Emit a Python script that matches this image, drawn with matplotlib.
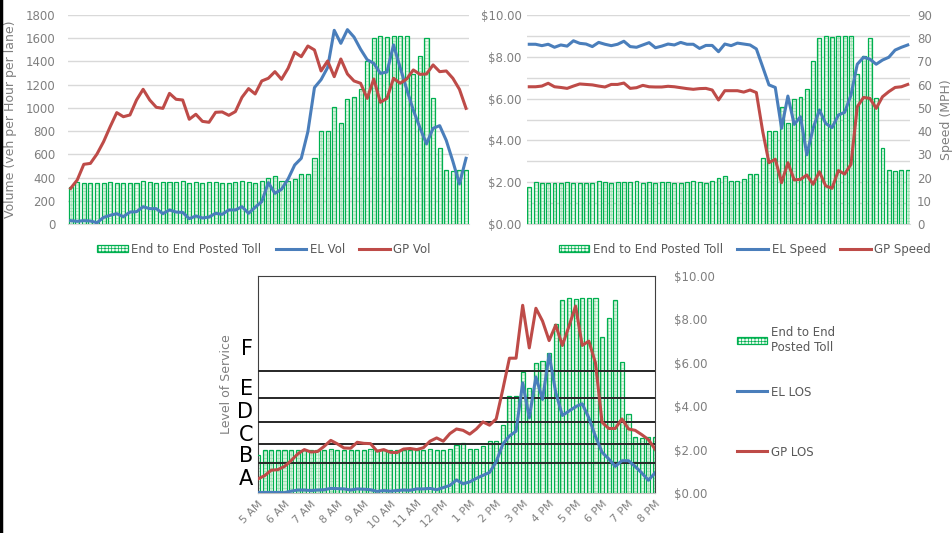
import numpy as np
import matplotlib
matplotlib.use("Agg")
import matplotlib.pyplot as plt
from matplotlib.patches import Patch
from matplotlib.lines import Line2D

# -----------------------------
# data: 15-minute intervals, 5 AM - 8 PM (61 points)
# -----------------------------
hour_labels = ["5 AM", "6 AM", "7 AM", "8 AM", "9 AM", "10 AM", "11 AM", "12 PM",
               "1 PM", "2 PM", "3 PM", "4 PM", "5 PM", "6 PM", "7 PM", "8 PM"]

toll = [1.75, 2.0, 1.96, 1.96, 1.96, 1.96, 2.0, 1.96, 1.96, 1.96,
        1.96, 2.05, 2.0, 1.96, 2.0, 2.0, 2.0, 2.05, 1.96, 2.0,
        1.96, 2.0, 2.0, 1.96, 1.96, 2.0, 2.05, 2.0, 1.96, 2.05,
        2.2, 2.3, 2.05, 2.05, 2.15, 2.38, 2.38, 3.14, 4.45, 4.45,
        5.58, 4.82, 6.0, 6.09, 6.44, 7.8, 8.88, 9.0, 8.95, 9.0,
        9.0, 9.0, 7.2, 8.05, 8.9, 6.03, 3.65, 2.57, 2.52, 2.57, 2.57]

el_vol = [29, 23, 29, 26, 11, 57, 75, 89, 63, 103,
          106, 149, 132, 132, 89, 121, 103, 100, 46, 69,
          52, 60, 92, 83, 121, 121, 149, 92, 144, 192,
          356, 264, 299, 388, 508, 566, 795, 1175, 1243, 1348,
          1668, 1556, 1674, 1610, 1505, 1415, 1384, 1297, 1309, 1542,
          1348, 1160, 980, 830, 690, 824, 847, 720, 540, 345, 566]
gp_vol = [307, 379, 514, 522, 603, 709, 838, 959, 924, 939,
          1068, 1160, 1068, 1005, 996, 1125, 1074, 1068, 902, 945,
          884, 876, 962, 965, 936, 968, 1091, 1166, 1120, 1232,
          1255, 1312, 1246, 1341, 1479, 1441, 1533, 1499, 1318, 1404,
          1269, 1421, 1292, 1232, 1212, 1082, 1249, 1048, 1082, 1255,
          1212, 1249, 1327, 1289, 1292, 1370, 1312, 1318, 1255, 1160, 996]

el_speed = [77.4, 77.4, 76.8, 77.4, 76.1, 77.1, 76.6, 78.9, 77.8, 77.5,
            76.4, 78.2, 77.4, 76.8, 77.4, 78.7, 76.4, 76.1, 77.1, 78.1,
            75.9, 76.6, 77.5, 77.1, 78.2, 77.4, 77.4, 75.6, 76.9, 76.9,
            74.2, 77.5, 76.8, 77.9, 77.5, 77.1, 75.4, 67.7, 59.9, 58.8,
            41.2, 55.1, 42.9, 46.2, 29.8, 41.2, 49.1, 43.3, 41.5, 46.9,
            48.1, 55.5, 68.8, 71.8, 71.0, 68.8, 70.6, 71.8, 74.9, 76.1, 77.1]
gp_speed = [59.1, 59.1, 59.4, 60.6, 59.1, 58.8, 58.4, 59.4, 60.3, 60.1,
            59.9, 59.4, 59.0, 60.1, 60.1, 60.7, 58.4, 58.7, 59.7, 59.1,
            59.0, 59.0, 59.3, 59.1, 58.7, 58.3, 58.0, 58.3, 58.4, 57.7,
            53.4, 57.4, 57.4, 57.4, 56.8, 57.7, 56.6, 40.0, 26.4, 27.9,
            17.8, 26.4, 19.0, 19.2, 21.1, 17.1, 22.5, 16.4, 15.4, 23.0,
            21.5, 25.7, 50.5, 54.5, 54.1, 49.8, 54.8, 57.0, 58.8, 59.1, 60.1]

# density (pc/mi/ln), shown against level of service bands
el_los = [0.2, 0.2, 0.2, 0.2, 0.1, 0.7, 1.1, 1.1, 0.9, 1.1,
          1.2, 1.7, 1.6, 1.5, 1.1, 1.5, 1.4, 1.2, 0.6, 0.9,
          0.7, 0.9, 1.1, 1.0, 1.5, 1.5, 1.7, 1.2, 2.0, 2.8,
          4.8, 3.4, 4.1, 5.4, 6.5, 7.6, 11.5, 18.0, 21.0, 22.8,
          40.6, 27.7, 42.8, 34.5, 51.1, 37.0, 28.6, 30.2, 31.8, 32.9,
          27.7, 20.9, 15.0, 12.6, 9.8, 11.9, 11.9, 9.8, 7.4, 4.7, 7.4]
gp_los = [5.2, 6.4, 8.4, 8.6, 9.8, 11.9, 14.4, 16.0, 15.1, 15.3,
          17.2, 19.4, 18.1, 16.6, 16.5, 18.7, 18.3, 18.2, 15.4, 16.0,
          15.0, 14.9, 16.2, 16.4, 16.0, 16.7, 19.1, 20.3, 19.1, 21.9,
          23.6, 23.1, 21.7, 23.6, 26.2, 25.0, 27.3, 38.2, 49.7, 49.7,
          69.2, 53.5, 68.1, 63.4, 56.2, 61.9, 54.4, 61.5, 68.9, 54.4,
          56.0, 48.0, 26.1, 23.8, 23.8, 27.3, 23.6, 23.1, 21.5, 19.7, 16.2]

los_letters = ["A", "B", "C", "D", "E", "F"]
los_breaks = [11, 18, 26, 35, 45]

# -----------------------------
# styles
# -----------------------------
BLUE = "#4a7ebb"
RED = "#be4b48"
GREEN = "#00b050"
GRID = "#d9d9d9"
TXT = "#7f7f7f"
LW = 2.2
BAR_W = 0.62

plt.rcParams["font.family"] = ["DejaVu Sans"]
plt.rcParams["hatch.linewidth"] = 0.5

x = np.arange(len(toll))


def toll_bars(ax):
    ax.bar(x, toll, width=BAR_W, facecolor="#eefaf1", edgecolor="#9fe0b1",
           hatch="+++++", linewidth=0, zorder=2)
    ax.bar(x, toll, width=BAR_W, fill=False, edgecolor=GREEN,
           linewidth=0.9, zorder=3)


def bare(ax):
    for s in ax.spines.values():
        s.set_visible(False)
    ax.tick_params(length=0, labelsize=8.5, colors=TXT)


def toll_handle():
    return Patch(facecolor="#eefaf1", edgecolor=GREEN, hatch="+++++",
                 linewidth=0.9)


fig = plt.figure(figsize=(9.53, 5.33), dpi=100)

# -----------------------------
# top left: volume
# -----------------------------
ax1b = fig.add_axes([68 / 953, 1 - 224 / 533, 401 / 953, 209 / 533])
ax1 = ax1b.twinx()
toll_bars(ax1b)
ax1b.set_ylim(0, 10)
ax1b.set_yticks(np.linspace(0, 10, 10))
ax1b.yaxis.grid(True, color=GRID, lw=1)
ax1b.set_axisbelow(True)
ax1b.set_yticklabels([])
ax1b.set_xticks([])
ax1b.set_xlim(-0.4, 60.45)
bare(ax1b)
ax1b.spines["bottom"].set_visible(True)
ax1b.spines["bottom"].set_color(GRID)

ax1.plot(x, el_vol, color=BLUE, lw=LW, zorder=5)
ax1.plot(x, gp_vol, color=RED, lw=LW, zorder=5)
ax1.set_ylim(0, 1800)
ax1.set_yticks(range(0, 1801, 200))
ax1.yaxis.tick_left()
ax1.yaxis.set_label_position("left")
bare(ax1)
ax1.tick_params(axis="y", pad=9)
ax1.set_ylabel("Volume (veh per Hour per lane)", color=TXT, fontsize=9, labelpad=6)

ax1.legend([toll_handle(), Line2D([], [], color=BLUE, lw=LW),
            Line2D([], [], color=RED, lw=LW)],
           ["End to End Posted Toll", "EL Vol", "GP Vol"],
           loc="center", bbox_to_anchor=(264 / 953, 1 - 249 / 533),
           bbox_transform=fig.transFigure, ncol=3, frameon=False,
           fontsize=8.5, labelcolor="#595959", handlelength=2.6,
           handletextpad=0.3, columnspacing=1.2, handleheight=0.5)

# -----------------------------
# top right: speed
# -----------------------------
ax2b = fig.add_axes([527 / 953, 1 - 224 / 533, 383 / 953, 209 / 533])
ax2 = ax2b.twinx()
toll_bars(ax2b)
ax2b.set_ylim(0, 10)
ax2b.set_yticks(np.arange(0, 10.01, 2))
ax2b.set_yticks(np.arange(1, 10, 2), minor=True)
ax2b.set_yticklabels([f"${v:.2f}" for v in np.arange(0, 10.01, 2)])
ax2b.yaxis.grid(True, which="both", color=GRID, lw=1)
ax2b.set_axisbelow(True)
ax2b.set_xticks([])
ax2b.set_xlim(-0.36, 60.36)
bare(ax2b)
ax2b.tick_params(which="minor", length=0)
ax2b.tick_params(axis="y", pad=4)
ax2b.spines["bottom"].set_visible(True)
ax2b.spines["bottom"].set_color(GRID)

ax2.plot(x, el_speed, color=BLUE, lw=LW, zorder=5)
ax2.plot(x, gp_speed, color=RED, lw=LW, zorder=5)
ax2.set_ylim(0, 90)
ax2.set_yticks(range(0, 91, 10))
bare(ax2)
ax2.tick_params(axis="y", pad=5)
ax2.set_ylabel("Speed (MPH)", color=TXT, fontsize=9, labelpad=6)

ax2.legend([toll_handle(), Line2D([], [], color=BLUE, lw=LW),
            Line2D([], [], color=RED, lw=LW)],
           ["End to End Posted Toll", "EL Speed", "GP Speed"],
           loc="center", bbox_to_anchor=(745 / 953, 1 - 249 / 533),
           bbox_transform=fig.transFigure, ncol=3, frameon=False,
           fontsize=8.5, labelcolor="#595959", handlelength=2.6,
           handletextpad=0.3, columnspacing=1.2, handleheight=0.5)

# -----------------------------
# bottom: level of service
# -----------------------------
ax3b = fig.add_axes([258 / 953, 1 - 493 / 533, 397 / 953, 217 / 533])
ax3 = ax3b.twinx()
toll_bars(ax3b)
ax3b.set_ylim(0, 10)
ax3b.set_xlim(0, 60)
ax3b.yaxis.tick_right()
ax3b.set_yticks(np.arange(0, 10.01, 2))
ax3b.set_yticklabels([f"${v:.2f}" for v in np.arange(0, 10.01, 2)])
ax3b.set_xticks(range(0, 61, 4))
ax3b.set_xticklabels(hour_labels, rotation=45, ha="right", va="top",
                     rotation_mode="anchor")
ax3b.tick_params(length=0, labelsize=8.5, colors=TXT)
ax3b.tick_params(axis="x", labelsize=7.8, pad=4)
ax3b.tick_params(axis="y", pad=14)
for s in ["left", "top", "right"]:
    ax3b.spines[s].set_color("#404040")
ax3b.spines["bottom"].set_color("#bfbfbf")

for b in los_breaks:
    ax3.axhline(b, color="#262626", lw=1.4, zorder=4)
ax3.plot(x, el_los, color=BLUE, lw=LW, zorder=5)
ax3.plot(x, gp_los, color=RED, lw=LW, zorder=5)
ax3.set_ylim(0, 80)
ax3.set_xlim(0, 60)
ax3.set_yticks([])
for s in ax3.spines.values():
    s.set_visible(False)
ax3.yaxis.set_label_position("left")
ax3.set_ylabel("Level of Service", color=TXT, fontsize=9, labelpad=18)

letter_y = [5, 13.5, 21.5, 30, 38.5, 53]
for letter, ly in zip(los_letters, letter_y):
    ax3.text(-0.012, ly, letter, transform=ax3.get_yaxis_transform(),
             ha="right", va="center", fontsize=15, color="black")

leg_kw = dict(frameon=False, fontsize=8.5, labelcolor="#595959",
              handlelength=2.6, handletextpad=0.3, loc="center left")
fig.legend([toll_handle()], ["End to End\nPosted Toll"],
           bbox_to_anchor=(726 / 953, 1 - 340 / 533), handleheight=0.5, **leg_kw)
fig.legend([Line2D([], [], color=BLUE, lw=LW)], ["EL LOS"],
           bbox_to_anchor=(726 / 953, 1 - 392 / 533), **leg_kw)
fig.legend([Line2D([], [], color=RED, lw=LW)], ["GP LOS"],
           bbox_to_anchor=(726 / 953, 1 - 452 / 533), **leg_kw)

# black border on the left edge
fig.add_artist(Line2D([0.0015, 0.0015], [0, 1], color="black", lw=2.5,
                      transform=fig.transFigure))

fig.savefig("out.png", dpi=100)
